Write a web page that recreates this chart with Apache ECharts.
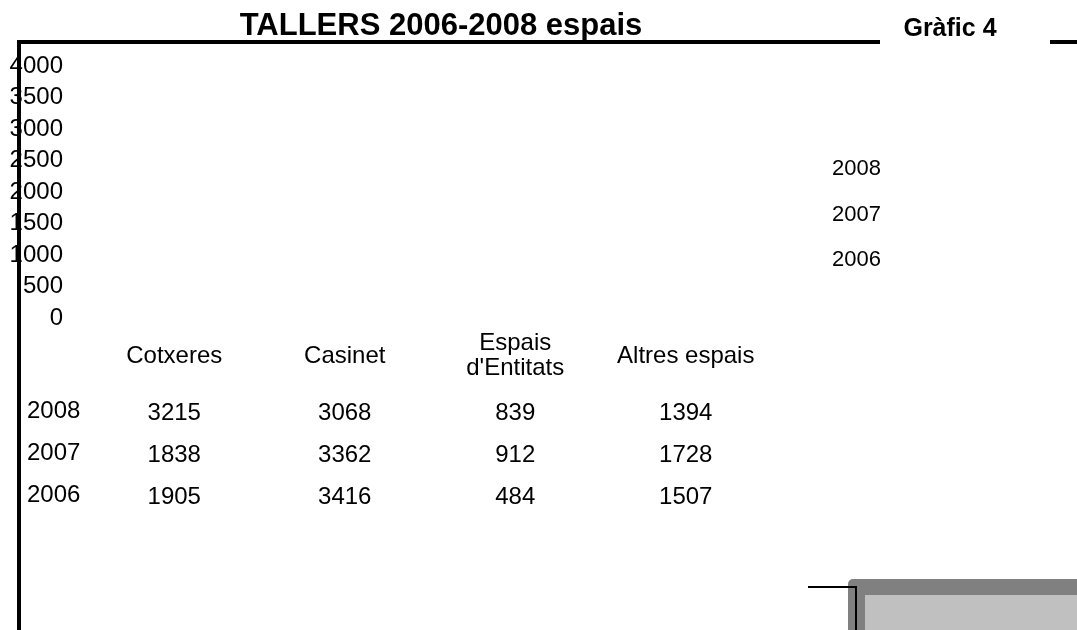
<!DOCTYPE html>
<html>
<head>
<meta charset="utf-8">
<script src="https://cdn.jsdelivr.net/npm/echarts@6/dist/echarts.min.js"></script>
<style>
  html, body { margin: 0; padding: 0; background: #fff; }
  #chart { width: 1077px; height: 630px; }
</style>
</head>
<body>
<div id="chart"></div>
<script>
// categories and values
const categories = ['Cotxeres', 'Casinet', "Espais\nd'Entitats", 'Altres espais'];
const years = ['2006', '2007', '2008'];
const values2006 = [1905, 3416, 484, 1507];
const values2007 = [1838, 3362, 912, 1728];
const values2008 = [3215, 3068, 839, 1394];
const yTicks = { min: 0, max: 4000, interval: 500 };

const font = 'Liberation Sans, Arial, sans-serif';
const byYear = { '2006': values2006, '2007': values2007, '2008': values2008 };

// taula de dades (cel·les) construida a partir de les series
const tableCells = [];
years.forEach(function (y) {
  byYear[y].forEach(function (v, i) {
    tableCells.push([categories[i], y, v]);
  });
});

const myChart = echarts.init(document.getElementById('chart'));

myChart.setOption({
  backgroundColor: '#fff',
  animation: false,
  title: [
    {
      text: 'TALLERS 2006-2008 espais',
      left: 441, top: 11, textAlign: 'center', padding: 0,
      textStyle: { fontFamily: font, fontSize: 31, fontWeight: 'bold', color: '#000' }
    },
    {
      text: 'Gràfic 4',
      left: 950, top: 17, textAlign: 'center', padding: 0,
      textStyle: { fontFamily: font, fontSize: 25, fontWeight: 'bold', color: '#000' }
    }
  ],
  legend: {
    orient: 'vertical',
    left: 822, top: 152,
    icon: 'none',
    itemWidth: 0, itemHeight: 24, itemGap: 22.5,
    data: ['2008', '2007', '2006'],
    textStyle: { fontFamily: font, fontSize: 22, color: '#000' }
  },
  grid: [
    { left: 89, width: 682, top: 66, height: 252 },
    { left: 89, width: 682, top: 390, height: 126 }
  ],
  xAxis: [
    {
      gridIndex: 0, type: 'category', data: categories,
      axisLine: { show: false }, axisTick: { show: false },
      axisLabel: {
        margin: 38, verticalAlign: 'middle', lineHeight: 25,
        fontFamily: font, fontSize: 24, color: '#000', interval: 0
      }
    },
    {
      gridIndex: 1, type: 'category', data: categories,
      axisLine: { show: false }, axisTick: { show: false }, axisLabel: { show: false }
    }
  ],
  yAxis: [
    {
      gridIndex: 0, type: 'value',
      min: yTicks.min, max: yTicks.max, interval: yTicks.interval,
      axisLine: { show: false }, axisTick: { show: false }, splitLine: { show: false },
      axisLabel: {
        margin: 26, fontFamily: font, fontSize: 24, color: '#000',
        formatter: function (v) { return String(v); }
      }
    },
    {
      gridIndex: 1, type: 'category', data: years,
      axisLine: { show: false }, axisTick: { show: false },
      axisLabel: { margin: 62, align: 'left', fontFamily: font, fontSize: 24, color: '#000' }
    }
  ],
  series: [
    {
      name: '2008', type: 'bar', xAxisIndex: 0, yAxisIndex: 0,
      data: values2008, itemStyle: { color: 'rgba(0,0,0,0)' }
    },
    {
      name: '2007', type: 'bar', xAxisIndex: 0, yAxisIndex: 0,
      data: values2007, itemStyle: { color: 'rgba(0,0,0,0)' }
    },
    {
      name: '2006', type: 'bar', xAxisIndex: 0, yAxisIndex: 0,
      data: values2006, itemStyle: { color: 'rgba(0,0,0,0)' }
    },
    {
      name: 'taula', type: 'scatter', xAxisIndex: 1, yAxisIndex: 1,
      symbolSize: 0, data: tableCells,
      itemStyle: { opacity: 1 },
      label: {
        show: true, position: [0, 2], align: 'center', verticalAlign: 'middle',
        formatter: function (p) { return p.value[2]; },
        fontFamily: font, fontSize: 24, color: '#000'
      }
    }
  ],
  graphic: [
    // marc del grafic
    { type: 'line', z: 100, shape: { x1: 18, y1: 42, x2: 880, y2: 42 }, style: { stroke: '#000', lineWidth: 4 } },
    { type: 'line', z: 100, shape: { x1: 1050, y1: 42, x2: 1077, y2: 42 }, style: { stroke: '#000', lineWidth: 4 } },
    { type: 'line', z: 100, shape: { x1: 19, y1: 40, x2: 19, y2: 630 }, style: { stroke: '#000', lineWidth: 4 } },
    // caixa grisa inferior dreta
    { type: 'rect', shape: { x: 848, y: 579, width: 240, height: 60, r: 5 }, style: { fill: '#808080' } },
    { type: 'rect', shape: { x: 865, y: 595, width: 220, height: 40 }, style: { fill: '#c0c0c0' } },
    { type: 'polyline', z: 100, shape: { points: [[808, 587], [856, 587], [856, 630]] }, style: { stroke: '#000', lineWidth: 2, fill: null } }
  ]
});
</script>
</body>
</html>
